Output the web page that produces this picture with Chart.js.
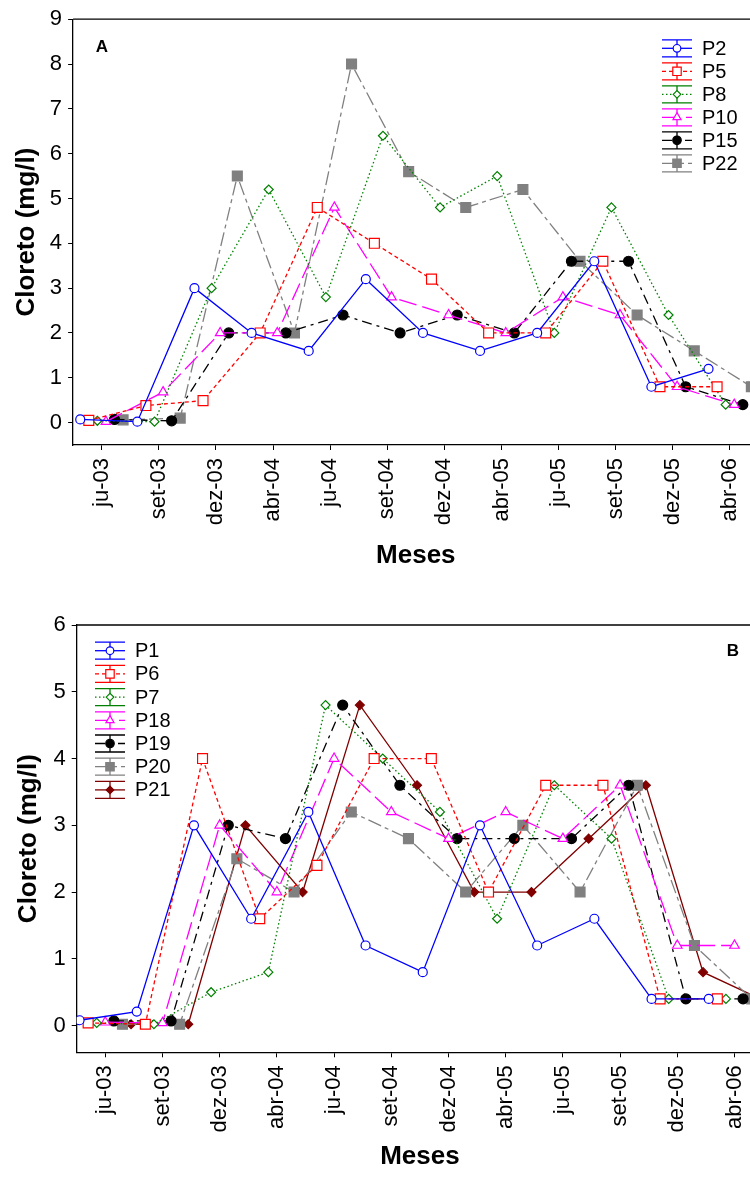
<!DOCTYPE html>
<html lang="pt">
<head>
<meta charset="utf-8">
<title>Cloreto (mg/l)</title>
<script src="https://cdn.jsdelivr.net/npm/chart.js@4.4.1/dist/chart.umd.min.js"></script>
<style>
    html, body { margin: 0; padding: 0; background: #fff; width: 750px; height: 1177px; overflow: hidden; }
    canvas { position: absolute; left: 0; display: block; }
    #graficoA { top: 0; }
    #graficoB { top: 600px; }
</style>
</head>
<body>
<canvas id="graficoA" width="800" height="600"></canvas>
<canvas id="graficoB" width="800" height="577"></canvas>
<script>
const meses = ['ju-03', 'set-03', 'dez-03', 'abr-04', 'ju-04', 'set-04', 'dez-04', 'abr-05', 'ju-05', 'set-05', 'dez-05', 'abr-06'];

// Painel A
const nomesA = ['P2', 'P5', 'P8', 'P10', 'P15', 'P22'];
const p2 = [0.07, 0.02, 3.0, 2.0, 1.6, 3.2, 2.0, 1.6, 2.0, 3.6, 0.8, 1.2];
const p5 = [0.05, 0.38, 0.49, 2.0, 4.8, 4.0, 3.2, 2.0, 2.0, 3.6, 0.8, 0.8];
const p8 = [0.04, 0.02, 3.0, 5.2, 2.8, 6.4, 4.8, 5.5, 2.0, 4.8, 2.4, 0.4];
const p10 = [0.02, 0.68, 2.0, 2.0, 4.8, 2.8, 2.4, 2.0, 2.8, 2.4, 0.8, 0.4];
const p15 = [0.07, 0.04, 2.0, 2.0, 2.4, 2.0, 2.4, 2.0, 3.6, 3.6, 0.8, 0.4];
const p22 = [0.06, 0.1, 5.5, 2.0, 8.0, 5.6, 4.8, 5.2, 3.6, 2.4, 1.6, 0.8];
const ticksA = [0, 1, 2, 3, 4, 5, 6, 7, 8, 9];

// Painel B
const nomesB = ['P1', 'P6', 'P7', 'P18', 'P19', 'P20', 'P21'];
const p1 = [0.08, 0.21, 3.0, 1.6, 3.2, 1.2, 0.8, 3.0, 1.2, 1.6, 0.4, 0.4];
const p6 = [0.04, 0.02, 4.0, 1.6, 2.4, 4.0, 4.0, 2.0, 3.6, 3.6, 0.4, 0.4];
const p7 = [0.04, 0.02, 0.5, 0.8, 4.8, 4.0, 3.2, 1.6, 3.6, 2.8, 0.4, 0.4];
const p18 = [0.05, 0.04, 3.0, 2.0, 4.0, 3.2, 2.8, 3.2, 2.8, 3.6, 1.2, 1.2];
const p19 = [0.07, 0.07, 3.0, 2.8, 4.8, 3.6, 2.8, 2.8, 2.8, 3.6, 0.4, 0.4];
const p20 = [0.02, 0.02, 2.5, 2.0, 3.2, 2.8, 2.0, 3.0, 2.0, 3.6, 1.2, 0.4];
const p21 = [0.02, 0.02, 3.0, 2.0, 4.8, 3.6, 2.0, 2.0, 2.8, 3.6, 0.8, 0.4];
const ticksB = [0, 1, 2, 3, 4, 5, 6];

const fonte = "'Liberation Sans', Arial, sans-serif";

// estilos SigmaPlot: cor, traco, marcador
const estilos = [
    { cor: '#0000ff', traco: [], ponto: 'circle', raio: 4.5, fundo: '#ffffff' },
    { cor: '#ff0000', traco: [4, 3], ponto: 'rect', raio: 7, fundo: '#ffffff' },
    { cor: '#008000', traco: [1.5, 2.5], ponto: 'rectRot', raio: 4.5, fundo: '#ffffff' },
    { cor: '#ff00ff', traco: [18, 6], ponto: 'triangle', raio: 5.5, fundo: '#ffffff' },
    { cor: '#000000', traco: [10, 5, 3, 5], ponto: 'circle', raio: 5, fundo: '#000000' },
    { cor: '#808080', traco: [14, 4, 4, 4], ponto: 'rect', raio: 7, fundo: '#808080' },
    { cor: '#800000', traco: [], ponto: 'rectRot', raio: 4.5, fundo: '#800000' }
];

function montaSerie(nome, valores, k, n) {
    const est = estilos[k];
    const desloc = (k - (n - 1) / 2) * 0.15;
    return {
        label: nome,
        data: valores.map((v, i) => ({ x: i + desloc, y: v })),
        borderColor: est.cor,
        borderDash: est.traco,
        borderWidth: 1.3,
        pointStyle: est.ponto,
        pointRadius: est.raio,
        pointBackgroundColor: est.fundo,
        pointBorderColor: est.cor,
        pointBorderWidth: 1.2,
        tension: 0,
        fill: false
    };
}

// moldura superior, letra do painel e legenda com barras de erro
const moldura = {
    id: 'moldura',
    afterDraw(chart, args, opts) {
        const { ctx, chartArea } = chart;
        ctx.save();
        ctx.strokeStyle = '#000';
        ctx.lineWidth = 1.3;
        ctx.beginPath();
        ctx.moveTo(chartArea.left, chartArea.top);
        ctx.lineTo(chartArea.right, chartArea.top);
        ctx.stroke();

        ctx.fillStyle = '#000';
        ctx.font = 'bold 17px ' + fonte;
        ctx.textAlign = 'center';
        ctx.textBaseline = 'middle';
        ctx.fillText(opts.letra, opts.letraX, opts.letraY);

        chart.data.datasets.forEach((ds, i) => {
            const cy = opts.legY + i * opts.legPasso;
            const x0 = opts.legX, x1 = opts.legX + 30, cx = (x0 + x1) / 2;
            ctx.strokeStyle = ds.borderColor;
            ctx.lineWidth = 1.3;
            ctx.setLineDash([]);
            ctx.beginPath();
            ctx.moveTo(x0, cy - 8.5); ctx.lineTo(x1, cy - 8.5);
            ctx.moveTo(x0, cy + 8.5); ctx.lineTo(x1, cy + 8.5);
            ctx.moveTo(cx, cy - 8.5); ctx.lineTo(cx, cy + 8.5);
            ctx.stroke();
            ctx.setLineDash(ds.borderDash);
            ctx.beginPath();
            ctx.moveTo(x0, cy); ctx.lineTo(x1, cy);
            ctx.stroke();
            ctx.setLineDash([]);
            ctx.fillStyle = ds.pointBackgroundColor;
            ctx.lineWidth = 1.2;
            Chart.helpers.drawPoint(ctx, { pointStyle: ds.pointStyle, radius: ds.pointRadius * 0.85, borderWidth: 1.2, rotation: 0 }, cx, cy);

            ctx.fillStyle = '#000';
            ctx.font = '20px ' + fonte;
            ctx.textAlign = 'left';
            ctx.fillText(ds.label, x1 + 10, cy + 1);
        });
        ctx.restore();
    }
};

function criaGrafico(id, nomes, series, cfg) {
    const datasets = series.map((s, k) => montaSerie(nomes[k], s, k, series.length));
    const canvas = document.getElementById(id);

    new Chart(canvas.getContext('2d'), {
        type: 'line',
        data: { datasets },
        options: {
            responsive: false,
            animation: false,
            layout: { padding: { left: 0, top: cfg.topo, right: canvas.width - cfg.direita, bottom: 0 } },
            plugins: {
                legend: { display: false },
                tooltip: { enabled: false },
                moldura: cfg.moldura
            },
            scales: {
                x: {
                    type: 'linear',
                    min: -0.5,
                    max: 11.5,
                    afterBuildTicks: s => { s.ticks = meses.map((m, i) => ({ value: i })); },
                    afterFit: s => { s.height = canvas.height - cfg.base; },
                    ticks: {
                        autoSkip: false,
                        minRotation: 90,
                        maxRotation: 90,
                        padding: 8,
                        color: '#000',
                        font: { family: fonte, size: 22 },
                        callback: v => meses[v]
                    },
                    grid: { drawOnChartArea: false, drawTicks: true, tickLength: 5, color: '#000' },
                    border: { color: '#000', width: 1.3 },
                    title: {
                        display: true,
                        text: 'Meses',
                        color: '#000',
                        font: { family: fonte, size: 26, weight: 'bold' },
                        padding: { top: 0, bottom: cfg.tituloXBaixo }
                    }
                },
                y: {
                    min: cfg.yMin,
                    max: cfg.yMax,
                    afterBuildTicks: s => { s.ticks = cfg.yTicks.map(v => ({ value: v })); },
                    afterFit: s => { s.width = cfg.esquerda; },
                    ticks: {
                        padding: 6,
                        color: '#000',
                        font: { family: fonte, size: 22 }
                    },
                    grid: { drawOnChartArea: false, drawTicks: true, tickLength: 5, color: '#000' },
                    border: { color: '#000', width: 1.3 },
                    title: {
                        display: true,
                        text: 'Cloreto (mg/l)',
                        color: '#000',
                        font: { family: fonte, size: 26, weight: 'bold' },
                        padding: { top: cfg.tituloYEsq, bottom: 0 }
                    }
                }
            }
        },
        plugins: [moldura]
    });
}

criaGrafico('graficoA', nomesA, [p2, p5, p8, p10, p15, p22], {
    topo: 16, base: 445, esquerda: 73.1, direita: 758.5,
    yMin: -0.5, yMax: 9, yTicks: ticksA,
    tituloXBaixo: 29, tituloYEsq: 11,
    moldura: { letra: 'A', letraX: 102, letraY: 47.5, legX: 662, legY: 48.3, legPasso: 23 }
});

criaGrafico('graficoB', nomesB, [p1, p6, p7, p18, p19, p20, p21], {
    topo: 25, base: 452.3, esquerda: 76.7, direita: 763.1,
    yMin: -0.4, yMax: 6, yTicks: ticksB,
    tituloXBaixo: 4.4, tituloYEsq: 13,
    moldura: { letra: 'B', letraX: 733, letraY: 51.7, legX: 95, legY: 50.7, legPasso: 23.2 }
});
</script>
</body>
</html>
